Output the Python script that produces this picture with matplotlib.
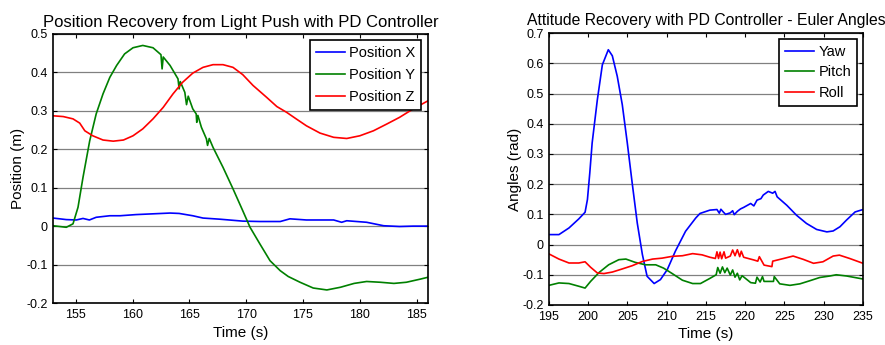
import numpy as np
import matplotlib
matplotlib.use('Agg')
import matplotlib.pyplot as plt

plt.rcParams['font.family'] = ['Liberation Sans', 'DejaVu Sans']

# Left plot: position recovery from light push
t_y = [153, 154.17, 154.76, 155.2, 155.64, 156.23, 156.8, 157.4, 158, 158.6, 159.3, 160.04, 160.9,
       161.8, 162.5, 162.6, 162.7, 163.3, 164, 164.1, 164.2, 164.6, 164.75, 164.9, 165.3, 165.6,
       165.65, 165.75, 166.06, 166.5, 166.6, 166.75, 167.08, 167.96, 168.84, 169.7, 170.34, 171.2,
       172.1, 173.0, 173.7, 174.74, 175.9, 177.1, 178.3, 179.5, 180.6, 181.8, 183, 184.1, 185.3, 186]
pos_y = [0.001, -0.003, 0.006, 0.049, 0.127, 0.222, 0.292, 0.344, 0.387, 0.418, 0.448, 0.464, 0.47,
         0.464, 0.446, 0.409, 0.44, 0.418, 0.383, 0.357, 0.376, 0.348, 0.316, 0.338, 0.305, 0.292,
         0.27, 0.288, 0.257, 0.227, 0.21, 0.228, 0.205, 0.153, 0.097, 0.04, -0.003, -0.046,
         -0.09, -0.116, -0.131, -0.146, -0.161, -0.166, -0.159, -0.149, -0.144, -0.146, -0.149,
         -0.146, -0.138, -0.133]

t_z = [153, 153.9, 154.76, 155.35, 155.8, 156.5, 157.4, 158.3, 159.2, 160.04, 160.9, 161.8, 162.7,
       163.56, 164.4, 165.3, 166.2, 167.08, 167.96, 168.84, 169.7, 170.6, 171.8, 172.7, 173.56,
       174.4, 175.3, 176.5, 177.7, 178.85, 180, 181.2, 182.4, 183.5, 184.7, 186]
pos_z = [0.287, 0.285, 0.279, 0.268, 0.248, 0.235, 0.224, 0.221, 0.224, 0.235, 0.253, 0.279, 0.309,
         0.344, 0.374, 0.398, 0.413, 0.42, 0.42, 0.413, 0.394, 0.366, 0.335, 0.311, 0.296, 0.279,
         0.261, 0.242, 0.231, 0.228, 0.235, 0.248, 0.266, 0.283, 0.305, 0.326]

t_x = [153, 154.17, 155.05, 155.64, 156.2, 156.8, 158, 158.9, 160.3, 161.8, 163.3, 164.1, 165.3,
       166.2, 167.7, 169.7, 171.2, 173, 173.85, 175.3, 177.7, 178.4, 178.85, 180.6, 182.1, 183.5,
       184.7, 186]
pos_x = [0.021, 0.017, 0.016, 0.02, 0.016, 0.023, 0.027, 0.027, 0.03, 0.032, 0.034, 0.033, 0.027,
         0.021, 0.018, 0.013, 0.012, 0.012, 0.019, 0.016, 0.016, 0.01, 0.014, 0.01, 0.001, -0.001,
         0.0, 0.0]

# Right plot: attitude recovery, Euler angles
t_yaw = [195, 196.27, 197.55, 198.8, 199.6, 199.9, 200.2, 200.5, 201.16, 201.8, 202.56, 203.07,
         203.7, 204.34, 204.98, 205.6, 206.25, 206.9, 207.5, 208.4, 209.2, 210.07, 211.1, 212.4,
         213.7, 214.24, 215.5, 216.4, 216.7, 216.9, 217.2, 217.5, 218.1, 218.4, 218.6, 219, 219.4,
         219.8, 220.7, 221.1, 221.5, 222.0, 222.3, 222.94, 223.5, 223.8, 224.07, 225.3, 226.54,
         227.8, 229.1, 230.4, 231.2, 232.07, 232.9, 234, 235]
yaw = [0.033, 0.033, 0.055, 0.085, 0.107, 0.149, 0.237, 0.336, 0.479, 0.595, 0.645, 0.625, 0.557,
       0.463, 0.336, 0.204, 0.071, -0.033, -0.105, -0.129, -0.116, -0.083, -0.022, 0.044, 0.088,
       0.103, 0.114, 0.116, 0.104, 0.117, 0.108, 0.1, 0.105, 0.112, 0.099, 0.11, 0.118, 0.123,
       0.136, 0.128, 0.147, 0.152, 0.164, 0.176, 0.17, 0.176, 0.158, 0.13, 0.097, 0.07, 0.05,
       0.042, 0.045, 0.059, 0.081, 0.108, 0.116]

t_pitch = [195, 196.27, 197.55, 198.8, 199.6, 200.3, 201.4, 202.6, 203.9, 204.8, 206, 207.3, 208.6,
           209.6, 210.7, 212, 213.3, 214.3, 215.5, 216.3, 216.5, 216.8, 217.1, 217.4, 217.7, 218.1,
           218.4, 218.7, 219.0, 219.3, 219.6, 220.7, 221.3, 221.5, 221.9, 222.2, 222.4, 223.6, 223.7,
           224.4, 225.7, 226.97, 228.2, 229.5, 230.8, 231.6, 232.9, 235]
pitch = [-0.135, -0.127, -0.129, -0.138, -0.144, -0.122, -0.092, -0.067, -0.05, -0.048, -0.059,
         -0.067, -0.067, -0.078, -0.096, -0.118, -0.129, -0.129, -0.112, -0.1, -0.076, -0.095,
         -0.074, -0.093, -0.078, -0.101, -0.084, -0.108, -0.095, -0.117, -0.103, -0.126, -0.128,
         -0.108, -0.124, -0.106, -0.122, -0.122, -0.106, -0.13, -0.135, -0.13, -0.12, -0.109,
         -0.104, -0.1, -0.104, -0.114]

t_roll = [195, 196.27, 197.55, 198.8, 199.6, 200.3, 201.16, 202, 203.07, 204.3, 205.6, 206.9, 208.2,
          209.4, 210.7, 212, 213.3, 214.5, 215.5, 216.2, 216.4, 216.6, 216.8, 217.0, 217.3, 217.5,
          218.1, 218.4, 218.7, 219.0, 219.3, 219.5, 219.8, 221.1, 221.6, 221.8, 222.4, 223.4, 223.5,
          224.9, 226.1, 227.4, 228.7, 229.9, 231.2, 232, 233.3, 235]
roll = [-0.031, -0.048, -0.061, -0.061, -0.057, -0.075, -0.094, -0.096, -0.091, -0.081, -0.07,
        -0.056, -0.048, -0.045, -0.039, -0.037, -0.03, -0.034, -0.042, -0.046, -0.024, -0.046,
        -0.025, -0.047, -0.024, -0.045, -0.038, -0.018, -0.037, -0.017, -0.04, -0.022, -0.042,
        -0.051, -0.055, -0.04, -0.068, -0.073, -0.055, -0.046, -0.038, -0.049, -0.062, -0.057,
        -0.038, -0.035, -0.046, -0.062]

fig = plt.figure(figsize=(8.85, 3.45), dpi=100)
ax1 = fig.add_axes([0.0599, 0.1217, 0.4237, 0.78])
ax2 = fig.add_axes([0.6203, 0.116, 0.3548, 0.788])

ax1.plot(t_x, pos_x, color='#0000ff', lw=1.2, label='Position X')
ax1.plot(t_y, pos_y, color='#008000', lw=1.2, label='Position Y')
ax1.plot(t_z, pos_z, color='#ff0000', lw=1.2, label='Position Z')
ax1.set_xlim(153, 186)
ax1.set_ylim(-0.2, 0.5)
ax1.set_xticks(np.arange(155, 186, 5))
ax1.set_yticks(np.arange(-0.2, 0.51, 0.1))
ax1.set_yticklabels(['-0.2', '-0.1', '0', '0.1', '0.2', '0.3', '0.4', '0.5'])
ax1.set_title('Position Recovery from Light Push with PD Controller', fontsize=12, pad=5)
ax1.set_xlabel('Time (s)', fontsize=11, labelpad=4)
ax1.set_ylabel('Position (m)', fontsize=11, labelpad=1)

ax2.plot(t_yaw, yaw, color='#0000ff', lw=1.2, label='Yaw')
ax2.plot(t_pitch, pitch, color='#008000', lw=1.2, label='Pitch')
ax2.plot(t_roll, roll, color='#ff0000', lw=1.2, label='Roll')
ax2.set_xlim(195, 235)
ax2.set_ylim(-0.2, 0.7)
ax2.set_xticks(np.arange(195, 236, 5))
ax2.set_yticks(np.arange(-0.2, 0.71, 0.1))
ax2.set_yticklabels(['-0.2', '-0.1', '0', '0.1', '0.2', '0.3', '0.4', '0.5', '0.6', '0.7'])
ax2.set_title('Attitude Recovery with PD Controller - Euler Angles', fontsize=11.3, pad=6)
ax2.set_xlabel('Time (s)', fontsize=11, labelpad=3)
ax2.set_ylabel('Angles (rad)', fontsize=11, labelpad=0)

for ax in (ax1, ax2):
    ax.yaxis.grid(True, color='#808080', lw=0.9)
    ax.set_axisbelow(True)
    ax.tick_params(direction='in', top=True, right=True, labelsize=9, length=3, pad=4)
    for s in ax.spines.values():
        s.set_linewidth(1.2)

leg1 = ax1.legend(loc='upper right', fontsize=10.5, fancybox=False, framealpha=1,
                  edgecolor='black', handlelength=2.0, borderpad=0.4, labelspacing=0.55,
                  borderaxespad=0.45, handletextpad=0.3)
leg1.get_frame().set_linewidth(1.2)
leg2 = ax2.legend(loc='upper right', fontsize=10.5, fancybox=False, framealpha=1,
                  edgecolor='black', handlelength=2.0, borderpad=0.4, labelspacing=0.45,
                  borderaxespad=0.4, handletextpad=0.3)
leg2.get_frame().set_linewidth(1.2)

fig.savefig('out.png', dpi=100)
